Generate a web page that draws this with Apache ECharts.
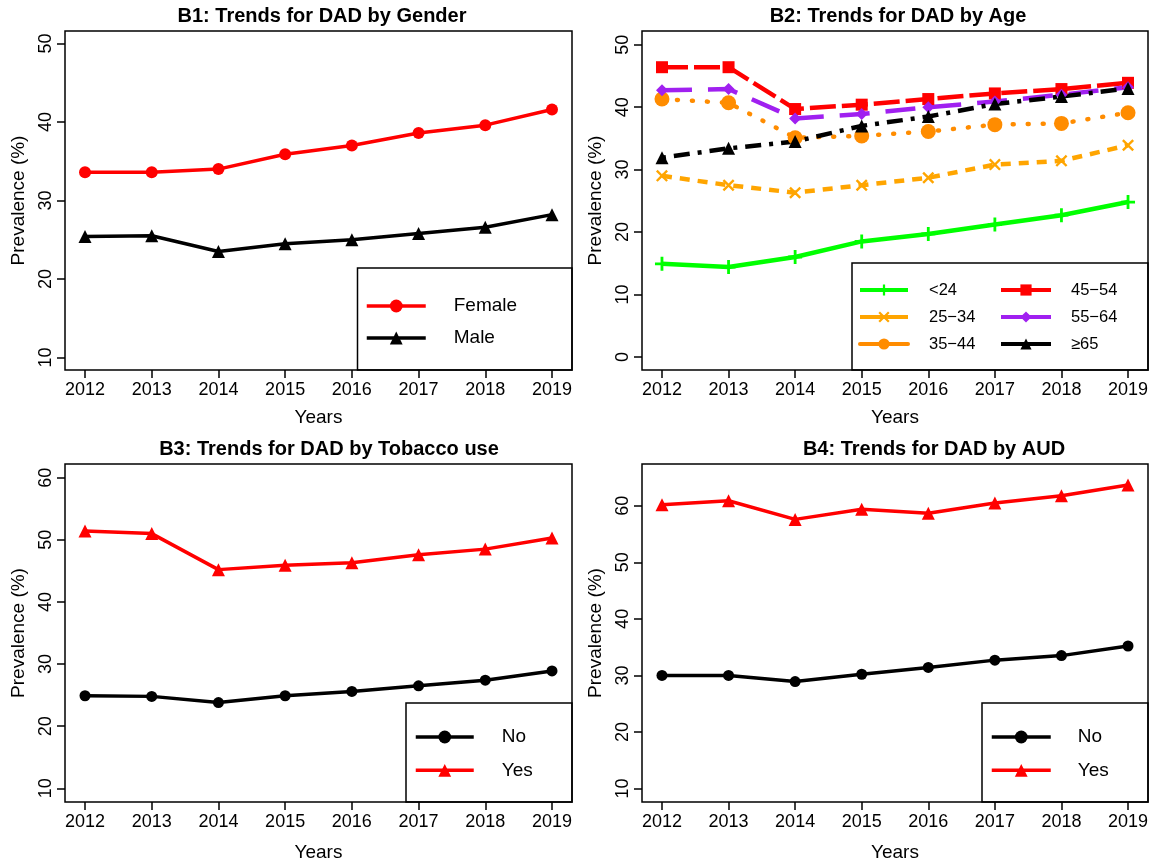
<!DOCTYPE html>
<html>
<head>
<meta charset="utf-8">
<script src="https://cdn.jsdelivr.net/npm/echarts@6/dist/echarts.min.js"></script>
<style>
html, body { margin: 0; padding: 0; background: #fff; }
#main { width: 1156px; height: 863px; }
</style>
</head>
<body>
<div id="main"></div>
<script>
var years = [2012, 2013, 2014, 2015, 2016, 2017, 2018, 2019];

// B1: gender
var female = [33.6, 33.6, 34.0, 35.9, 37.0, 38.6, 39.6, 41.6];
var male = [25.4, 25.5, 23.5, 24.5, 25.0, 25.8, 26.6, 28.2];

// B2: age groups
var ageLt24 = [14.9, 14.4, 16.0, 18.5, 19.7, 21.2, 22.7, 24.8];
var age25to34 = [29.0, 27.5, 26.3, 27.5, 28.7, 30.8, 31.4, 33.9];
var age35to44 = [41.3, 40.7, 35.1, 35.4, 36.1, 37.2, 37.4, 39.1];
var age45to54 = [46.4, 46.4, 39.7, 40.4, 41.3, 42.2, 42.9, 43.9];
var age55to64 = [42.7, 42.9, 38.2, 38.9, 40.0, 40.9, 42.0, 43.2];
var age65plus = [31.9, 33.4, 34.5, 37.0, 38.5, 40.5, 41.7, 43.0];

// B3: tobacco use
var tobaccoNo = [24.9, 24.8, 23.8, 24.9, 25.6, 26.5, 27.4, 28.9];
var tobaccoYes = [51.4, 51.0, 45.2, 45.9, 46.3, 47.6, 48.5, 50.3];

// B4: AUD
var audNo = [30.0, 30.0, 28.9, 30.2, 31.4, 32.7, 33.5, 35.2];
var audYes = [60.2, 60.9, 57.6, 59.4, 58.7, 60.5, 61.8, 63.7];

var yTicks1 = [10, 20, 30, 40, 50];
var yTicks2 = [0, 10, 20, 30, 40, 50];
var yTicks3 = [10, 20, 30, 40, 50, 60];
var yTicks4 = [10, 20, 30, 40, 50, 60];

var titles = ['B1: Trends for DAD by Gender', 'B2: Trends for DAD by Age',
              'B3: Trends for DAD by Tobacco use', 'B4: Trends for DAD by AUD'];
var ageNames = ['<24', '25\u221234', '35\u221244', '45\u221254', '55\u221264', '\u226565'];

var FONT = '"Liberation Sans", Arial, Helvetica, sans-serif';
var PLUS = 'path://M4,0H6V4H10V6H6V10H4V6H0V4H4Z';
var CROSS = 'path://M0,1.4L1.4,0L5,3.6L8.6,0L10,1.4L6.4,5L10,8.6L8.6,10L5,6.4L1.4,10L0,8.6L3.6,5Z';

function pts(vals) {
	return years.map(function(y, i) { return [y, vals[i]]; });
}

var grids = [
	{left: 65, top: 31, width: 507, height: 339},
	{left: 642, top: 31, width: 506, height: 339},
	{left: 65, top: 464, width: 507, height: 338},
	{left: 642, top: 464, width: 506, height: 338}
];
var yRanges = [[8.4, 51.6], [-2.1, 52.2], [7.8, 62.2], [7.6, 67.4]];
var yTicks = [yTicks1, yTicks2, yTicks3, yTicks4];

function xAxis(gi) {
	return {
		type: 'value', gridIndex: gi, min: 2011.7, max: 2019.3,
		name: 'Years', nameLocation: 'middle', nameGap: gi < 2 ? 38 : 41,
		nameTextStyle: {fontSize: 19, color: '#000', fontFamily: FONT},
		axisLine: {show: false, onZero: false},
		splitLine: {show: false},
		axisTick: {show: true, length: 8, customValues: years, lineStyle: {color: '#000', width: 1.5}},
		axisLabel: {fontSize: 18, color: '#000', fontFamily: FONT, margin: 11, customValues: years,
			formatter: function(v) { return String(v); }}
	};
}

function yAxis(gi) {
	return {
		type: 'value', gridIndex: gi, min: yRanges[gi][0], max: yRanges[gi][1],
		name: 'Prevalence (%)', nameLocation: 'middle', nameGap: 37, nameRotate: 90,
		nameTextStyle: {fontSize: 19, color: '#000', fontFamily: FONT},
		axisLine: {show: false, onZero: false},
		splitLine: {show: false},
		axisTick: {show: true, length: 8, customValues: yTicks[gi], lineStyle: {color: '#000', width: 1.5}},
		axisLabel: {fontSize: 18, color: '#000', fontFamily: FONT, rotate: 90, margin: 10, customValues: yTicks[gi],
			formatter: function(v) { return String(v); }}
	};
}

function line(name, gi, vals, color, symbol, size, width, dash, cap) {
	return {
		type: 'line', name: name, xAxisIndex: gi, yAxisIndex: gi,
		data: pts(vals), symbol: symbol, symbolSize: size, showAllSymbol: true,
		itemStyle: {color: color, borderWidth: 0},
		lineStyle: {color: color, width: width, type: dash || 'solid', cap: cap || 'butt'},
		emphasis: {disabled: true}
	};
}

var series = [
	line('Female', 0, female, '#ff0000', 'circle', 12, 3.5),
	line('Male', 0, male, '#000000', 'triangle', 13, 3.5),

	line(ageNames[0], 1, ageLt24, '#00ff00', PLUS, 14, 4.5),
	line(ageNames[1], 1, age25to34, '#ffa500', CROSS, 12, 4.5, [10, 8]),
	line(ageNames[2], 1, age35to44, '#ff8c00', 'circle', 15, 4.5, [1, 14], 'round'),
	line(ageNames[3], 1, age45to54, '#ff0000', 'rect', 12, 4.5, [26, 6]),
	line(ageNames[4], 1, age55to64, '#a020f0', 'diamond', 12, 4.5, [30, 16]),
	line(ageNames[5], 1, age65plus, '#000000', 'triangle', 13, 4.5, [4, 8, 16, 8]),

	line('No', 2, tobaccoNo, '#000000', 'circle', 11, 3.5),
	line('Yes', 2, tobaccoYes, '#ff0000', 'triangle', 13, 3.5),

	line('No', 3, audNo, '#000000', 'circle', 11, 3.5),
	line('Yes', 3, audYes, '#ff0000', 'triangle', 13, 3.5)
];

function legend(names, left, top, w, h, gap, pad, fs, lw) {
	return {
		data: names, orient: 'vertical', left: left, top: top, padding: 0,
		itemWidth: w, itemHeight: h, itemGap: gap, selectedMode: false,
		textStyle: {fontSize: fs, color: '#000', fontFamily: FONT, padding: [0, 0, 0, pad]},
		lineStyle: {type: 'solid', width: lw}
	};
}

var titleCenters = [[322, 6], [898, 6], [329, 439], [934, 439]];
var legendBoxes = [[357.5, 268, 572, 370], [852, 263, 1148, 370], [406, 703, 572, 802], [982, 703, 1148, 802]];

var myChart = echarts.init(document.getElementById('main'), null, {renderer: 'canvas'});
myChart.setOption({
	animation: false,
	backgroundColor: '#fff',
	textStyle: {fontFamily: FONT},
	title: titles.map(function(t, i) {
		return {
			text: t, left: titleCenters[i][0], top: titleCenters[i][1], textAlign: 'center', padding: 0,
			textStyle: {fontSize: 20, fontWeight: 'bold', color: '#000', fontFamily: FONT}
		};
	}),
	grid: grids.map(function(g) {
		return {left: g.left, top: g.top, width: g.width, height: g.height, show: true,
			borderColor: '#000', borderWidth: 1.5, containLabel: false, outerBoundsMode: 'none'};
	}),
	xAxis: [0, 1, 2, 3].map(xAxis),
	yAxis: [0, 1, 2, 3].map(yAxis),
	legend: [
		legend(['Female', 'Male'], 365, 296.5, 59, 16, 13, 23, 19, 3.5),
		legend(ageNames.slice(0, 3), 858, 281.5, 48, 14, 10, 16, 16.5, 4),
		legend(ageNames.slice(3), 999, 281.5, 50, 14, 10, 15, 16.5, 4),
		legend(['No', 'Yes'], 414, 727.5, 58, 16, 14.3, 23, 19, 3.5),
		legend(['No', 'Yes'], 990, 727.5, 59, 16, 14.3, 22, 19, 3.5)
	],
	graphic: legendBoxes.map(function(b) {
		return {type: 'rect', z: 1, silent: true,
			shape: {x: b[0], y: b[1], width: b[2] - b[0], height: b[3] - b[1]},
			style: {fill: 'none', stroke: '#000', lineWidth: 1.5}};
	}),
	series: series
});
</script>
</body>
</html>
